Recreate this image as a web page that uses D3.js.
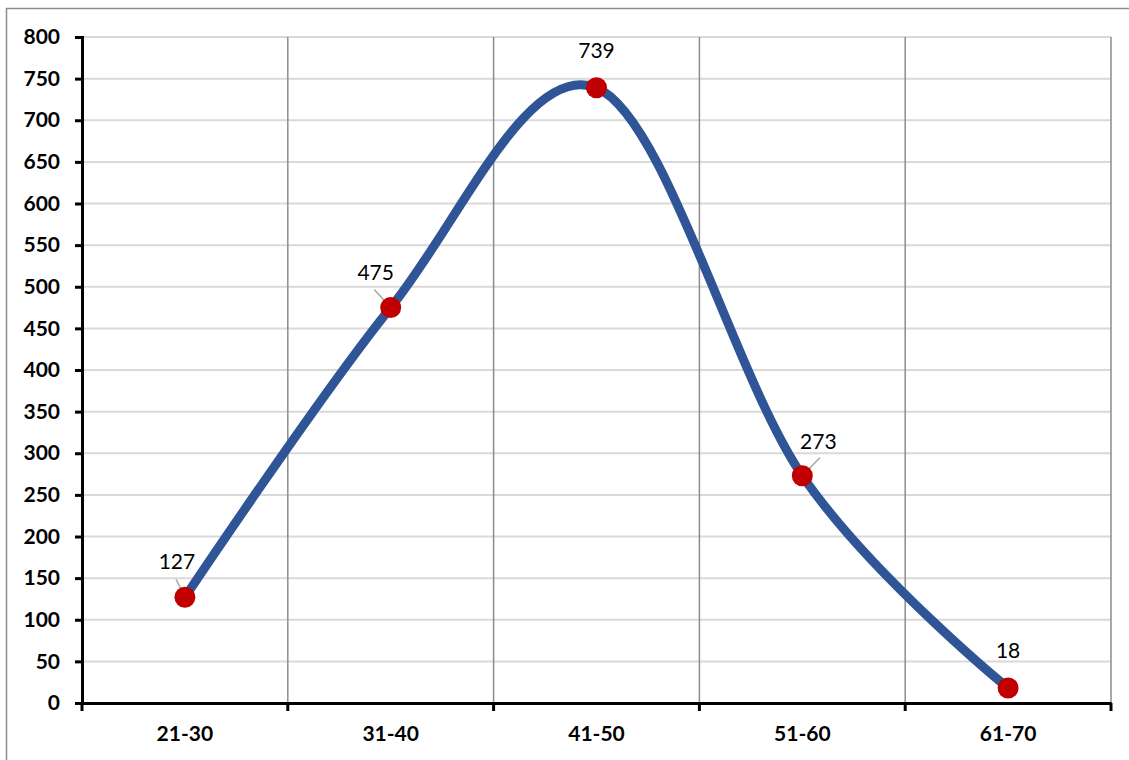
<!DOCTYPE html>
<html>
<head>
<meta charset="utf-8">
<script src="https://cdn.jsdelivr.net/npm/d3@7"></script>
<style>
  body { margin: 0; background: #fff; }
  svg { display: block; }
</style>
</head>
<body>
<div id="chart"></div>
<script>
var categories = ['21-30', '31-40', '41-50', '51-60', '61-70'];
var values = [127, 475, 739, 273, 18];
var yTicks = [0, 50, 100, 150, 200, 250, 300, 350, 400, 450, 500, 550, 600, 650, 700, 750, 800];
// label offsets from point (dx, dy), and whether a leader line is drawn
var labelOffsets = [[-8, -28, true], [-15, -28, true], [0, -30, false], [16, -27, true], [0, -30, false]];

var width = 1129;
var height = 760;
var margin = {top: 37, right: 18, bottom: 57, left: 82};

var svg = d3.select('#chart')
    .append('svg')
    .attr('width', width)
    .attr('height', height);

// outer chart border
svg.append('rect')
    .attr('x', 6.5)
    .attr('y', 8.5)
    .attr('width', width + 10)
    .attr('height', height + 10)
    .attr('fill', 'none')
    .attr('stroke', '#8c8c8c')
    .attr('stroke-width', 1.5);

var x = d3.scaleBand()
    .domain(categories)
    .range([margin.left, width - margin.right]);

var y = d3.scaleLinear()
    .domain([0, 800])
    .range([height - margin.bottom, margin.top]);

// horizontal gridlines
svg.selectAll('line.hgrid')
    .data(yTicks.slice(1))
    .enter()
    .append('line')
    .attr('class', 'hgrid')
    .attr('x1', margin.left)
    .attr('x2', width - margin.right)
    .attr('y1', function(d) { return y(d); })
    .attr('y2', function(d) { return y(d); })
    .attr('stroke', '#d9d9d9')
    .attr('stroke-width', 2);

// vertical gridlines at category boundaries
svg.selectAll('line.vgrid')
    .data(categories)
    .enter()
    .append('line')
    .attr('class', 'vgrid')
    .attr('x1', function(d) { return x(d) + x.bandwidth(); })
    .attr('x2', function(d) { return x(d) + x.bandwidth(); })
    .attr('y1', y(800))
    .attr('y2', y(0))
    .attr('stroke', '#8c8c8c')
    .attr('stroke-width', 1.5);

// y axis
var yAxis = svg.append('g')
    .attr('transform', 'translate(' + margin.left + ',0)')
    .call(d3.axisLeft(y).tickValues(yTicks).tickSize(7).tickPadding(15));
yAxis.select('.domain').attr('stroke', '#000').attr('stroke-width', 3);
yAxis.selectAll('.tick line').attr('stroke', '#000').attr('stroke-width', 3);
yAxis.selectAll('.tick text')
    .attr('font-family', 'Lato, "Open Sans", sans-serif')
    .attr('font-weight', 'bold')
    .attr('font-size', '21px')
    .attr('fill', '#000');

// x axis
var xAxis = svg.append('g')
    .attr('transform', 'translate(0,' + y(0) + ')')
    .call(d3.axisBottom(x).tickSize(0).tickPadding(23));
xAxis.select('.domain').attr('stroke', '#000').attr('stroke-width', 3);
xAxis.selectAll('.tick text')
    .attr('font-family', 'Lato, "Open Sans", sans-serif')
    .attr('font-weight', 'bold')
    .attr('font-size', '21px')
    .attr('fill', '#000');

// x axis tick marks at category boundaries
var boundaries = [x(categories[0])].concat(categories.map(function(d) { return x(d) + x.bandwidth(); }));
svg.selectAll('line.xtick')
    .data(boundaries)
    .enter()
    .append('line')
    .attr('class', 'xtick')
    .attr('x1', function(d) { return d; })
    .attr('x2', function(d) { return d; })
    .attr('y1', y(0))
    .attr('y2', y(0) + 8)
    .attr('stroke', '#000')
    .attr('stroke-width', 3);

var points = categories.map(function(c, i) {
    return [x(c) + x.bandwidth() / 2, y(values[i])];
});

var line = d3.line().curve(d3.curveCardinal.tension(0));

svg.append('path')
    .attr('d', line(points))
    .attr('fill', 'none')
    .attr('stroke', '#2f5597')
    .attr('stroke-width', 9)
    .attr('stroke-linecap', 'round');

// leader lines
svg.selectAll('line.leader')
    .data(points.filter(function(p, i) { return labelOffsets[i][2]; }))
    .enter()
    .append('line')
    .attr('class', 'leader')
    .attr('x1', function(p) { return p[0]; })
    .attr('y1', function(p) { return p[1]; })
    .attr('x2', function(p) {
        var i = points.indexOf(p);
        return p[0] + labelOffsets[i][0] * 1.1;
    })
    .attr('y2', function(p) { return p[1] - 18; })
    .attr('stroke', '#a6a6a6')
    .attr('stroke-width', 1.5);

svg.selectAll('circle')
    .data(points)
    .enter()
    .append('circle')
    .attr('cx', function(p) { return p[0]; })
    .attr('cy', function(p) { return p[1]; })
    .attr('r', 10.5)
    .attr('fill', '#c00000');

svg.selectAll('text.label')
    .data(points)
    .enter()
    .append('text')
    .attr('class', 'label')
    .attr('x', function(p, i) { return p[0] + labelOffsets[i][0]; })
    .attr('y', function(p, i) { return p[1] + labelOffsets[i][1]; })
    .attr('text-anchor', 'middle')
    .attr('font-family', 'Lato, "Open Sans", sans-serif')
    .attr('font-size', '21px')
    .attr('fill', '#000')
    .text(function(p, i) { return values[i]; });
</script>
</body>
</html>
